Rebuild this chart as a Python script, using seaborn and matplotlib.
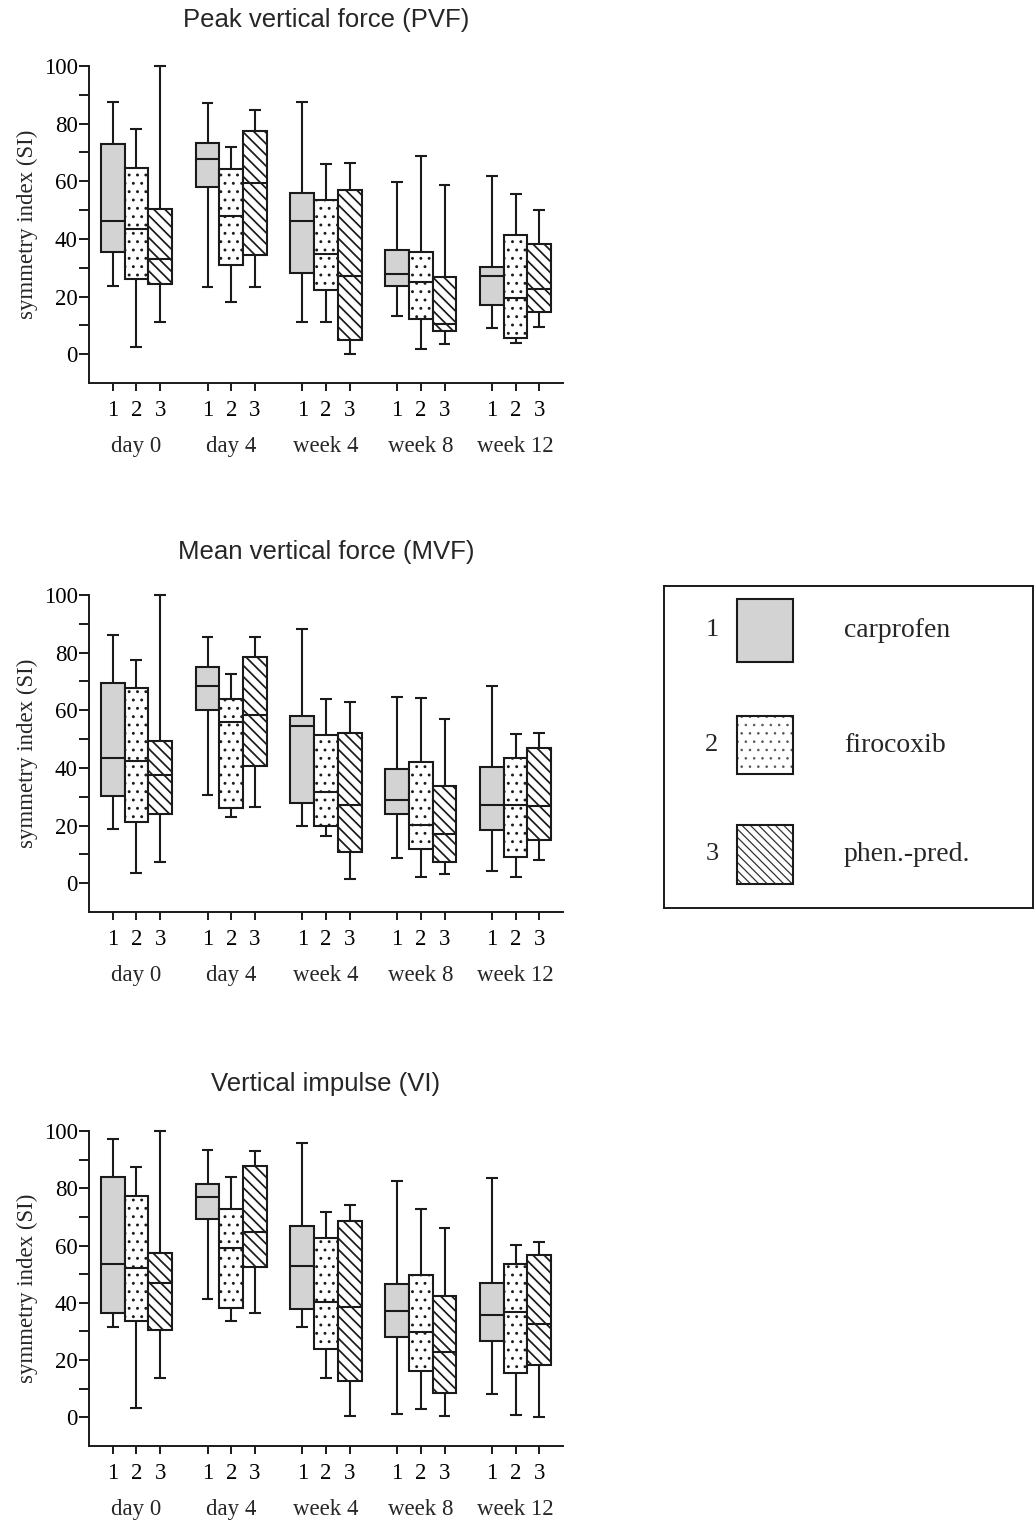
import numpy as np
import pandas as pd
import seaborn as sns
import matplotlib
matplotlib.use("Agg")
import matplotlib.pyplot as plt
from matplotlib.patches import Rectangle

# ---------------- data ----------------
groups = ["day 0", "day 4", "week 4", "week 8", "week 12"]
treatments = ["1", "2", "3"]
treatment_names = ["carprofen", "firocoxib", "phen.-pred."]
titles = ["Peak vertical force (PVF)", "Mean vertical force (MVF)", "Vertical impulse (VI)"]
y_major = [0, 20, 40, 60, 80, 100]
y_minor = [10, 30, 50, 70, 90]

# order: day0(1,2,3), day4(1,2,3), week4(1,2,3), week8(1,2,3), week12(1,2,3)
pvf_low = [23.5, 2.4, 11.2, 23.2, 18.2, 23.4, 11.3, 11.3, 0.2, 13.4, 1.8, 3.6, 9.2, 4.0, 9.6]
pvf_q1 = [35.5, 26.2, 24.3, 58.0, 30.9, 34.3, 28.2, 22.2, 4.9, 23.5, 12.3, 8.0, 17.2, 5.7, 14.7]
pvf_med = [46.2, 43.4, 33.1, 67.7, 48.0, 59.4, 46.1, 34.9, 27.3, 27.7, 25.2, 10.5, 27.3, 19.5, 22.5]
pvf_q3 = [72.8, 64.5, 50.3, 73.4, 64.2, 77.5, 55.8, 53.6, 56.8, 36.2, 35.6, 26.9, 30.2, 41.3, 38.2]
pvf_high = [87.6, 78.0, 100.0, 87.1, 72.0, 84.7, 87.4, 66.1, 66.2, 59.8, 68.9, 58.8, 62.0, 55.7, 50.1]

mvf_low = [18.9, 3.7, 7.3, 30.7, 22.9, 26.5, 20.0, 16.2, 1.3, 8.9, 2.0, 3.2, 4.3, 2.3, 7.9]
mvf_q1 = [30.3, 21.2, 24.1, 60.0, 26.2, 40.6, 27.9, 19.7, 10.9, 24.1, 12.0, 7.5, 18.3, 9.0, 14.9]
mvf_med = [43.5, 42.5, 37.4, 68.4, 56.0, 58.2, 54.7, 31.5, 27.3, 28.9, 20.3, 17.2, 27.0, 27.0, 26.7]
mvf_q3 = [69.4, 67.9, 49.3, 75.1, 63.8, 78.6, 57.9, 51.3, 52.1, 39.5, 42.2, 33.6, 40.4, 43.6, 47.0]
mvf_high = [86.2, 77.5, 100.0, 85.5, 72.6, 85.5, 88.3, 64.0, 62.7, 64.7, 64.4, 57.1, 68.5, 51.9, 52.2]

vi_low = [31.7, 3.3, 13.8, 41.2, 33.6, 36.6, 31.5, 13.8, 0.6, 1.3, 2.8, 0.6, 8.1, 0.7, 0.2]
vi_q1 = [36.5, 33.5, 30.5, 69.2, 38.3, 52.4, 37.8, 23.8, 12.7, 27.9, 16.2, 8.5, 26.6, 15.5, 18.3]
vi_med = [53.5, 52.3, 46.9, 76.9, 59.3, 64.7, 52.8, 40.3, 38.4, 37.1, 29.7, 22.7, 35.8, 36.9, 32.7]
vi_q3 = [84.0, 77.2, 57.4, 81.6, 72.8, 87.9, 67.0, 62.8, 68.7, 46.5, 49.7, 42.4, 47.0, 53.7, 56.7]
vi_high = [97.1, 87.3, 100.0, 93.4, 83.8, 93.0, 95.7, 71.7, 74.2, 82.4, 72.7, 66.0, 83.7, 60.3, 61.3]

panels = [
    (pvf_low, pvf_q1, pvf_med, pvf_q3, pvf_high),
    (mvf_low, mvf_q1, mvf_med, mvf_q3, mvf_high),
    (vi_low, vi_q1, vi_med, vi_q3, vi_high),
]

# ---------------- style ----------------
sns.set_theme(style="ticks")
plt.rcParams["font.family"] = ["Liberation Serif", "DejaVu Serif"]
plt.rcParams["hatch.linewidth"] = 1.1
plt.rcParams["hatch.color"] = "#111111"

LINE = "#1a1a1a"
GRAY = "#d3d3d3"
palette = {"1": GRAY, "2": "white", "3": "white"}
HATCH_DOTS = ".."
HATCH_DIAG = "\\\\\\"


def set_hatch_lw(p, lw):
    if hasattr(p, "set_hatch_linewidth"):
        p.set_hatch_linewidth(lw)
    else:
        p._hatch_linewidth = lw


fig = plt.figure(figsize=(10.34, 15.21), dpi=100)
W, H = 1034, 1521
left = 89 / W
width = 474 / W
axes_px = [(66, 383), (595, 912), (1131, 1446)]
title_pads = [28, 26, 29]


def build_frame(low, q1, med, q3, high):
    rows = []
    k = 0
    for g in groups:
        for t in treatments:
            for v in (low[k], q1[k], med[k], q3[k], high[k]):
                rows.append({"group": g, "treatment": t, "value": v})
            k += 1
    return pd.DataFrame(rows)


for idx, (stats, (top, bot)) in enumerate(zip(panels, axes_px)):
    ax = fig.add_axes([left, (H - bot) / H, width, (bot - top) / H])
    df = build_frame(*stats)
    sns.boxplot(data=df, x="group", y="value", hue="treatment",
                order=groups, hue_order=treatments, palette=palette,
                width=0.75, gap=0, dodge=True, whis=(0, 100),
                showfliers=False, saturation=1, linecolor=LINE,
                linewidth=1.5, legend=False, ax=ax)
    # patterns by position inside the group
    for p in ax.patches:
        v = p.get_path().vertices
        xc = (v[:, 0].min() + v[:, 0].max()) / 2
        off = xc - round(xc)
        p.set_edgecolor(LINE)
        if abs(off) < 0.1:
            p.set_hatch(HATCH_DOTS)
            set_hatch_lw(p, 0.9)
        elif off > 0.1:
            p.set_hatch(HATCH_DIAG)
            set_hatch_lw(p, 1.25)
    for ln in ax.lines:
        ln.set_clip_on(False)
        ln.set_solid_capstyle("butt")

    ax.set_xlim(-0.5, len(groups) - 0.5)
    ax.set_ylim(-10, 100)
    ax.set_yticks(y_major)
    ax.set_yticks(y_minor, minor=True)
    ax.set_yticklabels([str(v) for v in y_major])
    xt = [i + o for i in range(len(groups)) for o in (-0.25, 0.0, 0.25)]
    ax.set_xticks(xt)
    ax.set_xticklabels(treatments * len(groups))
    ax.tick_params(axis="both", which="both", direction="out",
                   width=1.4, color=LINE, labelsize=16.5, labelcolor="black")
    ax.tick_params(axis="y", which="both", pad=1, length=7.2)
    ax.tick_params(axis="x", which="both", pad=6.3, length=5.8)
    for s in ("top", "right"):
        ax.spines[s].set_visible(False)
    for s in ("left", "bottom"):
        ax.spines[s].set_linewidth(1.4)
        ax.spines[s].set_color(LINE)
    ax.set_xlabel("")
    ax.set_ylabel("symmetry index (SI)", fontsize=16.5, labelpad=4)
    ax.set_title(titles[idx], fontsize=18.5, pad=title_pads[idx],
                 family=["Liberation Sans", "DejaVu Sans"])
    for i, g in enumerate(groups):
        ax.annotate(g, xy=(i, 0), xycoords=("data", "axes fraction"),
                    xytext=(0, -69), textcoords="offset pixels",
                    ha="center", va="baseline", fontsize=16.5)

# ---------------- legend box ----------------
lx0, lx1, ly0, ly1 = 664, 1033, 586, 908
lax = fig.add_axes([lx0 / W, (H - ly1) / H, (lx1 - lx0) / W, (ly1 - ly0) / H])
lax.set_xlim(0, 1)
lax.set_ylim(0, 1)
lax.set_xticks([])
lax.set_yticks([])
for s in lax.spines.values():
    s.set_visible(True)
    s.set_linewidth(1.4)
    s.set_color(LINE)
leg_rects = [(0.198, 0.764, 0.152, 0.196), (0.198, 0.416, 0.152, 0.180), (0.198, 0.075, 0.152, 0.183)]
leg_fill = [GRAY, "white", "white"]
leg_hatch = [None, "..", "\\\\\\\\"]
leg_hcol = [LINE, "#555555", "#333333"]
leg_hlw = [1.0, 0.6, 0.9]
for (x, y, w, h), fc, ht, hc, hlw, num, name in zip(leg_rects, leg_fill, leg_hatch, leg_hcol,
                                                     leg_hlw, treatments, treatment_names):
    if ht:
        hp = Rectangle((x, y), w, h, facecolor=fc, edgecolor=hc, hatch=ht, lw=0)
        set_hatch_lw(hp, hlw)
        lax.add_patch(hp)
        lax.add_patch(Rectangle((x, y), w, h, facecolor="none", edgecolor=LINE, lw=1.5))
    else:
        lax.add_patch(Rectangle((x, y), w, h, facecolor=fc, edgecolor=LINE, lw=1.5))
    lax.text(0.130, y + h / 2, num, ha="center", va="center", fontsize=19)
    lax.text(0.488, y + h / 2, name, ha="left", va="center", fontsize=20)

fig.savefig("out.png", dpi=100)
